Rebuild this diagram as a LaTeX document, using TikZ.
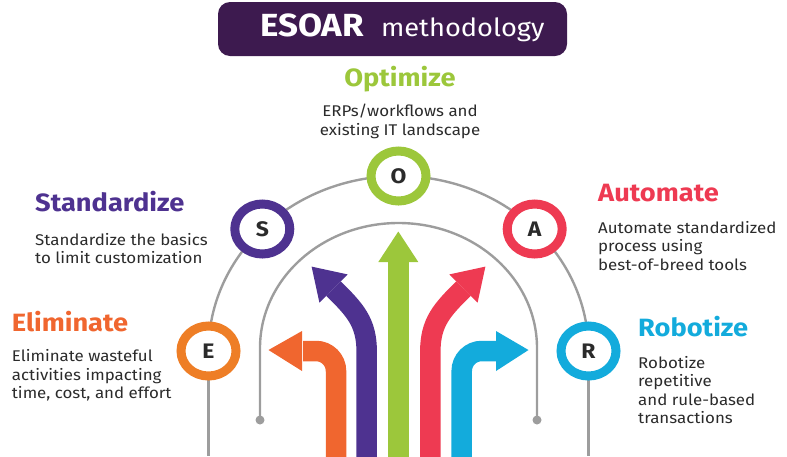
\documentclass[tikz,border=0pt]{standalone}
\usepackage{fontspec}
\setmainfont{Fira Sans}[FakeStretch=1.09]
\usetikzlibrary{backgrounds,shapes.geometric}

\definecolor{titlebg}{HTML}{3D1A4F}
\definecolor{ink}{HTML}{2B2B2B}
\definecolor{arcgray}{HTML}{9D9D9D}
\definecolor{cOrange}{HTML}{F0662F}
\definecolor{cRing}{HTML}{EE7E26}
\definecolor{cPurple}{HTML}{4E3290}
\definecolor{cGreen}{HTML}{9CC73B}
\definecolor{cRed}{HTML}{EE3A52}
\definecolor{cBlue}{HTML}{13ABDC}

\tikzset{
  ring/.style={ellipse, draw=#1, line width=9pt, fill=white, minimum width=55pt,
    minimum height=50pt, inner sep=0pt, text=ink,
    font=\fontsize{21}{21}\selectfont\bfseries},
  arcline/.style={draw=arcgray, line width=2.4pt},
  enddot/.style={circle, fill=arcgray, minimum size=9pt, inner sep=0pt},
  heading/.style={inner sep=0pt, anchor=base west, text=#1,
    font=\fontsize{25}{25}\selectfont\bfseries},
  body/.style={inner sep=0pt, anchor=base west, align=left, text=ink,
    font=\fontsize{15.5}{18.5}\selectfont},
  shaft/.style={draw=#1, line width=20.5pt, line cap=butt},
  head/.style={fill=#1, draw=none}
}

\begin{document}
\begin{tikzpicture}[x=1pt, y=-1pt]
\useasboundingbox (0,0) rectangle (787,456);

% title banner
\node[fill=titlebg, rounded corners=12pt, minimum width=349pt, minimum height=54pt,
      inner sep=0pt] (title) at (392.5,29) {};
\node[inner sep=0pt, anchor=base west, text=white]
  (titletext) at (260,36)
  {{\fontsize{32}{32}\selectfont\bfseries ESOAR}\hspace{17pt}{\fontsize{25}{25}\selectfont methodology}};

% step markers on the outer arc
\node[ring=cRing]   (E) at (208.5,351) {E};
\node[ring=cPurple] (S) at (262.3,229) {S};
\node[ring=cGreen]  (O) at (398.5,176) {O};
\node[ring=cRed]    (A) at (534.7,229) {A};
\node[ring=cBlue]   (R) at (588.5,351) {R};

% end dots of the inner arc
\node[enddot] (ldot) at (260,420) {};
\node[enddot] (rdot) at (537,420) {};
\coordinate (bottom) at (0,456);

\begin{scope}[on background layer]
  % outer arc through the five markers, then down to the bottom edge
  \draw[arcline] (E.center) arc[start angle=180, end angle=360, x radius=190, y radius=175];
  \draw[arcline] (E.center) -- (E.center |- bottom);
  \draw[arcline] (R.center) -- (R.center |- bottom);
  % inner arc
  \draw[arcline] (ldot.center) -- (260,348)
    arc[start angle=180, end angle=360, x radius=138.5, y radius=125] -- (rdot.center);
\end{scope}

% arrows
% orange: up, then left
\draw[shaft=cOrange, rounded corners=20pt] (336,457) -- (336,351) -- (303,351);
\fill[head=cOrange] (302,331) -- (268.5,350) -- (302,371) -- cycle;
% purple: up, bending to the upper left
\draw[shaft=cPurple] (366.7,457) -- (366.7,352)
  .. controls (366.7,322) and (355,310) .. (333.5,288.5);
\fill[head=cPurple] (347.6,274.4) -- (311.6,266.6) -- (319.4,302.6) -- cycle;
% green: straight up
\draw[shaft=cGreen] (398.3,457) -- (398.3,261);
\fill[head=cGreen] (378.3,262) -- (398.3,231.5) -- (418.3,262) -- cycle;
% red: up, bending to the upper right
\draw[shaft=cRed] (430.3,457) -- (430.3,352)
  .. controls (430.3,322) and (442,310) .. (463.5,288.5);
\fill[head=cRed] (449.4,274.4) -- (485.4,266.6) -- (477.6,302.6) -- cycle;
% blue: up, then right
\draw[shaft=cBlue, rounded corners=20pt] (461.7,457) -- (461.7,351) -- (497,351);
\fill[head=cBlue] (496,331) -- (528.5,350) -- (496,371) -- cycle;

% labels (multi-line blocks are placed by the baseline of their last line)
\node[heading=cGreen, anchor=base] (hO) at (400,86.7) {Optimize};
\node[body, anchor=base, align=center] (tO) at (400,135.2)
  {ERPs/workflows and\\existing IT landscape};

\node[heading=cPurple] (hS) at (35,211.7) {Standardize};
\node[body] (tS) at (35,263.5) {Standardize the basics\\to limit customization};

\node[heading=cRed] (hA) at (598,201.7) {Automate};
\node[body] (tA) at (598,270.3)
  {Automate standardized\\process using\\best-of-breed tools};

\node[heading=cBlue] (hR) at (638,336.7) {Robotize};
\node[body] (tR) at (638,423.5)
  {Robotize\\repetitive\\and rule-based\\transactions};

\node[heading=cOrange] (hE) at (11.7,331.7) {Eliminate};
\node[body] (tE) at (11.7,398.7)
  {Eliminate wasteful\\activities impacting\\time, cost, and effort};
\end{tikzpicture}
\end{document}
